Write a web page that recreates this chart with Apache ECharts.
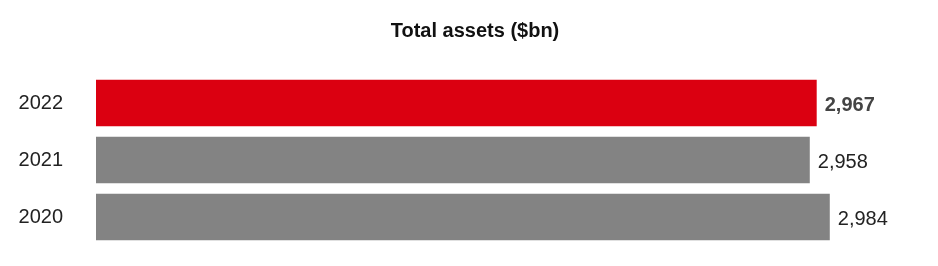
<!DOCTYPE html>
<html>
<head>
    <meta charset="UTF-8">
    <title>Total assets</title>
    <script src="https://cdn.jsdelivr.net/npm/echarts@6/dist/echarts.min.js"></script>
    <style>
        body, html { margin: 0; padding: 0; background: #fff; }
        #chart { width: 938px; height: 266px; }
    </style>
</head>
<body>
<div id="chart"></div>
<script>
    var years = ['2020', '2021', '2022'];
    var totals = [2984, 2958, 2967];
    var barColors = ['#838383', '#838383', '#db0011'];
    var boldYear = '2022';

    var chart = echarts.init(document.getElementById('chart'), null, {renderer: 'canvas'});

    chart.setOption({
        animation: false,
        title: {
            text: 'Total assets ($bn)',
            left: 470,
            textAlign: 'center',
            top: 16,
            textStyle: {fontFamily: 'Liberation Sans', fontSize: 20, fontWeight: 'bold', color: '#111'}
        },
        grid: {left: 96, right: 19, top: 74.5, height: 171, containLabel: false},
        xAxis: {
            type: 'value', min: 2030, max: 3100, show: false
        },
        yAxis: {
            type: 'category',
            data: years,
            axisLine: {show: false},
            axisTick: {show: false},
            axisLabel: {
                margin: 33,
                padding: [3, 0, 0, 0],
                fontFamily: 'Liberation Sans',
                fontSize: 20,
                color: '#222'
            }
        },
        series: [{
            type: 'bar',
            barCategoryGap: '18%',
            data: totals.map(function (v, i) {
                return {value: v, itemStyle: {color: barColors[i]}};
            }),
            label: {
                show: true,
                position: 'right',
                distance: 8,
                offset: [0, 2],
                fontFamily: 'Liberation Sans',
                fontSize: 20,
                formatter: function (p) {
                    var s = p.value.toLocaleString('en-US');
                    return p.name === boldYear ? '{b|' + s + '}' : '{n|' + s + '}';
                },
                rich: {
                    b: {fontFamily: 'Liberation Sans', fontSize: 20, fontWeight: 'bold', color: '#444'},
                    n: {fontFamily: 'Liberation Sans', fontSize: 20, color: '#222'}
                }
            }
        }]
    });
</script>
</body>
</html>
